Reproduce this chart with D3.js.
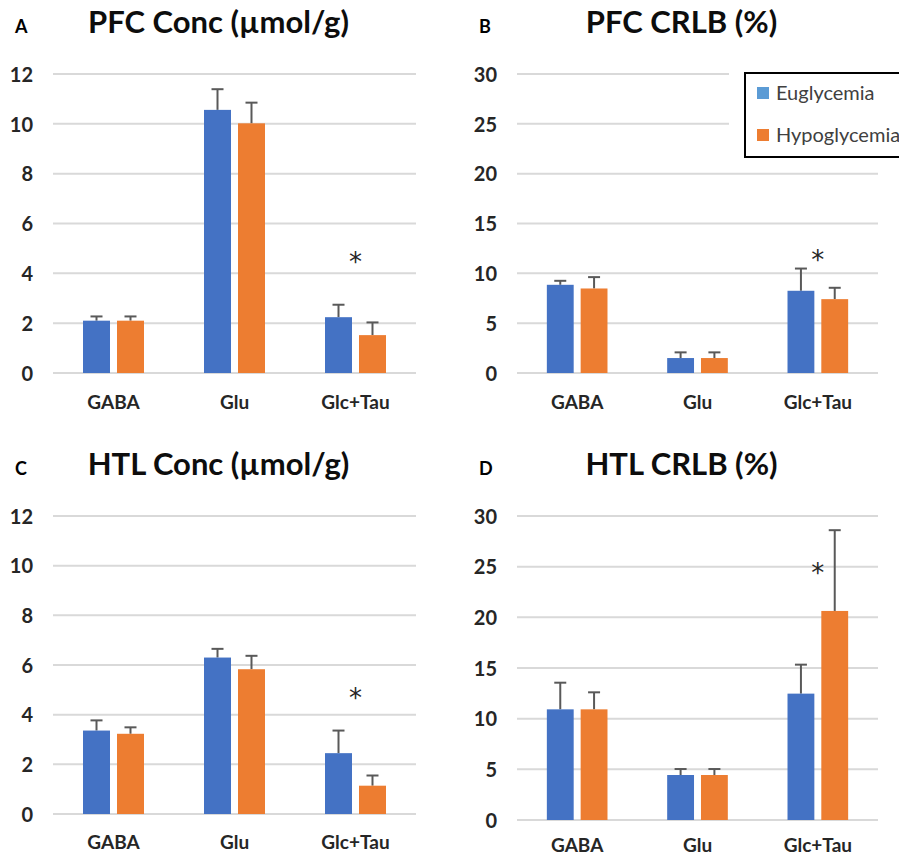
<!DOCTYPE html>
<html>
<head>
<meta charset="utf-8">
<script src="https://cdn.jsdelivr.net/npm/d3@7"></script>
<style>
  html, body { margin: 0; padding: 0; background: #fff; }
  svg { display: block; }
</style>
</head>
<body>
<svg id="chart" width="899" height="858"></svg>
<script>
const categories = ["GABA", "Glu", "Glc+Tau"];
const series = ["Euglycemia", "Hypoglycemia"];

// values, per panel: [GABA, Glu, Glc+Tau]
const pfcConcEu = [2.10, 10.56, 2.24];
const pfcConcEuErr = [0.17, 0.83, 0.50];
const pfcConcHypo = [2.10, 10.02, 1.52];
const pfcConcHypoErr = [0.17, 0.83, 0.51];

const pfcCrlbEu = [8.85, 1.50, 8.25];
const pfcCrlbEuErr = [0.40, 0.57, 2.23];
const pfcCrlbHypo = [8.48, 1.50, 7.41];
const pfcCrlbHypoErr = [1.14, 0.57, 1.14];

const htlConcEu = [3.36, 6.30, 2.45];
const htlConcEuErr = [0.41, 0.35, 0.91];
const htlConcHypo = [3.23, 5.83, 1.14];
const htlConcHypoErr = [0.26, 0.54, 0.41];

const htlCrlbEu = [10.92, 4.44, 12.47];
const htlCrlbEuErr = [2.63, 0.59, 2.86];
const htlCrlbHypo = [10.92, 4.44, 20.63];
const htlCrlbHypoErr = [1.68, 0.59, 7.97];

const concTicks = [0, 2, 4, 6, 8, 10, 12];
const crlbTicks = [0, 5, 10, 15, 20, 25, 30];

// asterisk heights, in axis units
const starValues = [4.7, 11.9, 4.9, 25.0];

const colors = { Euglycemia: "#4472C4", Hypoglycemia: "#ED7D31" };
const legendColors = { Euglycemia: "#5B9BD5", Hypoglycemia: "#ED7D31" };
const font = "Lato, 'Open Sans', sans-serif";

const panels = [
  { tag: "A", title: "PFC Conc (µmol/g)", eu: pfcConcEu, euErr: pfcConcEuErr, hy: pfcConcHypo, hyErr: pfcConcHypoErr,
    ticks: concTicks, star: starValues[0], left: 53, right: 416, top: 74, bottom: 373, tagX: 15, labelGap: 36 },
  { tag: "B", title: "PFC CRLB (%)", eu: pfcCrlbEu, euErr: pfcCrlbEuErr, hy: pfcCrlbHypo, hyErr: pfcCrlbHypoErr,
    ticks: crlbTicks, star: starValues[1], left: 517, right: 878, top: 74, bottom: 373, tagX: 479, labelGap: 36, legend: true },
  { tag: "C", title: "HTL Conc (µmol/g)", eu: htlConcEu, euErr: htlConcEuErr, hy: htlConcHypo, hyErr: htlConcHypoErr,
    ticks: concTicks, star: starValues[2], left: 53, right: 416, top: 516, bottom: 814, tagX: 15, labelGap: 35 },
  { tag: "D", title: "HTL CRLB (%)", eu: htlCrlbEu, euErr: htlCrlbEuErr, hy: htlCrlbHypo, hyErr: htlCrlbHypoErr,
    ticks: crlbTicks, star: starValues[3], left: 517, right: 878, top: 516, bottom: 820, tagX: 479, labelGap: 32 }
];

const svg = d3.select("#chart");

panels.forEach(p => {
  const g = svg.append("g");

  const y = d3.scaleLinear()
    .domain([0, d3.max(p.ticks)])
    .range([p.bottom, p.top]);

  const x = d3.scaleBand()
    .domain(categories)
    .range([p.left, p.right]);

  const bw = x.bandwidth();
  const xs = d3.scaleBand()
    .domain(series)
    .range([bw * 0.248, bw * 0.752])
    .paddingInner(0.206);

  // gridlines
  g.selectAll(".grid")
    .data(p.ticks)
    .enter().append("line")
    .attr("x1", p.left)
    .attr("x2", p.right)
    .attr("y1", d => y(d))
    .attr("y2", d => y(d))
    .attr("stroke", "#d9d9d9")
    .attr("stroke-width", 2);

  // tick labels
  const yAxis = d3.axisLeft(y).tickValues(p.ticks).tickSize(0).tickPadding(0);
  const ax = g.append("g")
    .attr("transform", `translate(${p.left - 20},0)`)
    .call(yAxis);
  ax.select(".domain").remove();
  ax.selectAll("text")
    .attr("dy", "0.36em")
    .style("font-family", font)
    .style("font-weight", "700")
    .style("font-size", "20px")
    .attr("fill", "#262626");

  // category labels
  const xAxis = d3.axisBottom(x).tickSize(0).tickPadding(0);
  const bx = g.append("g")
    .attr("transform", `translate(0,${p.bottom + p.labelGap})`)
    .call(xAxis);
  bx.select(".domain").remove();
  bx.selectAll("text")
    .attr("dy", "0")
    .attr("dx", "0")
    .attr("y", 0)
    .style("font-family", font)
    .style("font-weight", "700")
    .style("font-size", "19px")
    .attr("fill", "#262626");

  const rows = [];
  categories.forEach((c, i) => {
    rows.push({ cat: c, s: "Euglycemia", v: p.eu[i], e: p.euErr[i] });
    rows.push({ cat: c, s: "Hypoglycemia", v: p.hy[i], e: p.hyErr[i] });
  });

  // error bars (upper only), drawn behind the bars
  const err = g.selectAll(".err")
    .data(rows)
    .enter().append("g")
    .attr("stroke", "#595959")
    .attr("stroke-width", 2);
  err.append("line")
    .attr("x1", d => x(d.cat) + xs(d.s) + xs.bandwidth() / 2)
    .attr("x2", d => x(d.cat) + xs(d.s) + xs.bandwidth() / 2)
    .attr("y1", d => y(d.v))
    .attr("y2", d => y(d.v + d.e));
  err.append("line")
    .attr("x1", d => x(d.cat) + xs(d.s) + xs.bandwidth() / 2 - 6)
    .attr("x2", d => x(d.cat) + xs(d.s) + xs.bandwidth() / 2 + 6)
    .attr("y1", d => y(d.v + d.e))
    .attr("y2", d => y(d.v + d.e));

  g.selectAll(".bar")
    .data(rows)
    .enter().append("rect")
    .attr("x", d => x(d.cat) + xs(d.s))
    .attr("width", xs.bandwidth())
    .attr("y", d => y(d.v))
    .attr("height", d => y(0) - y(d.v))
    .attr("fill", d => colors[d.s]);

  // significance mark over Glc+Tau
  g.append("text")
    .attr("x", x("Glc+Tau") + bw / 2)
    .attr("y", y(p.star) + 15)
    .attr("text-anchor", "middle")
    .style("font-family", "'DejaVu Sans', sans-serif")
    .style("font-size", "26px")
    .attr("fill", "#262626")
    .text("*");

  // title and panel tag
  g.append("text")
    .attr("x", (p.left + p.right) / 2 - 16)
    .attr("y", p.top - 41)
    .attr("text-anchor", "middle")
    .style("font-family", font)
    .style("font-weight", "700")
    .style("font-size", "31px")
    .attr("fill", "#0d0d0d")
    .text(p.title);

  g.append("text")
    .attr("x", p.tagX)
    .attr("y", p.top - 41)
    .style("font-family", font)
    .style("font-weight", "700")
    .style("font-size", "18px")
    .attr("fill", "#000")
    .text(p.tag);

  if (p.legend) {
    const lg = g.append("g");
    lg.append("rect")
      .attr("x", 729).attr("y", 64)
      .attr("width", 180).attr("height", 102)
      .attr("fill", "#fff");
    lg.append("rect")
      .attr("x", 745).attr("y", 73)
      .attr("width", 200).attr("height", 84)
      .attr("fill", "#fff")
      .attr("stroke", "#000")
      .attr("stroke-width", 2);
    const item = lg.selectAll(".item")
      .data(series)
      .enter().append("g")
      .attr("transform", (d, i) => `translate(757,${93 + i * 42})`);
    item.append("rect")
      .attr("x", 0).attr("y", -6)
      .attr("width", 12).attr("height", 12)
      .attr("fill", d => legendColors[d]);
    item.append("text")
      .attr("x", 19)
      .attr("dy", "0.36em")
      .style("font-family", font)
      .style("font-size", "20px")
      .attr("fill", "#404040")
      .text(d => d);
  }
});
</script>
</body>
</html>
